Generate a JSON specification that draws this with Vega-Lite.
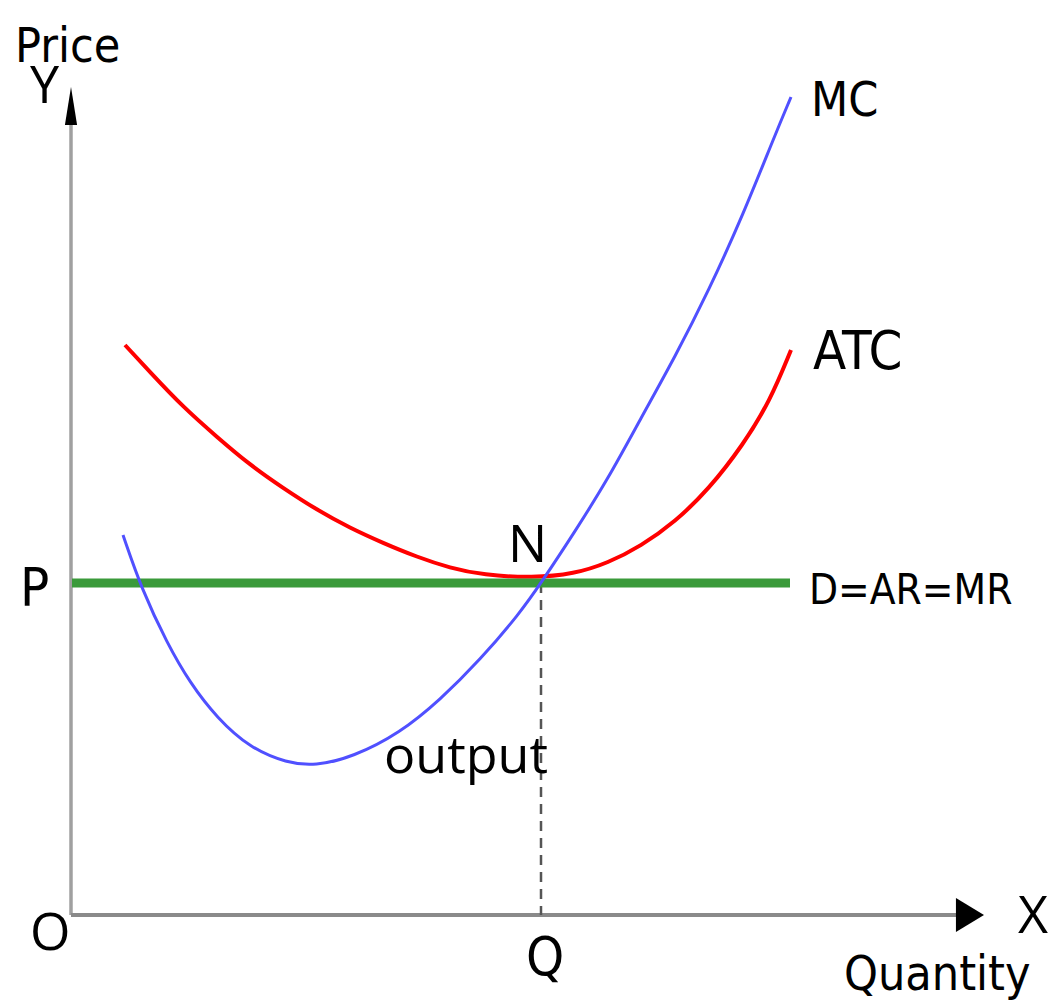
{
  "$schema": "https://vega.github.io/schema/vega-lite/v6.json",
  "width": 1054,
  "height": 1002,
  "autosize": "none",
  "padding": 0,
  "background": "white",
  "config": {"view": {"stroke": null}},
  "datasets": {
    "curves": [
      {"series": "MC", "q": 0.51, "p": 3.80},
      {"series": "MC", "q": 0.70, "p": 3.25},
      {"series": "MC", "q": 0.95, "p": 2.72},
      {"series": "MC", "q": 1.18, "p": 2.32},
      {"series": "MC", "q": 1.45, "p": 1.97},
      {"series": "MC", "q": 1.78, "p": 1.67},
      {"series": "MC", "q": 2.15, "p": 1.52},
      {"series": "MC", "q": 2.43, "p": 1.49},
      {"series": "MC", "q": 2.81, "p": 1.58},
      {"series": "MC", "q": 3.28, "p": 1.82},
      {"series": "MC", "q": 3.68, "p": 2.15},
      {"series": "MC", "q": 4.08, "p": 2.55},
      {"series": "MC", "q": 4.48, "p": 3.02},
      {"series": "MC", "q": 4.69, "p": 3.32},
      {"series": "MC", "q": 5.02, "p": 3.82},
      {"series": "MC", "q": 5.36, "p": 4.36},
      {"series": "MC", "q": 5.69, "p": 4.97},
      {"series": "MC", "q": 6.03, "p": 5.58},
      {"series": "MC", "q": 6.37, "p": 6.25},
      {"series": "MC", "q": 6.71, "p": 7.00},
      {"series": "MC", "q": 7.03, "p": 7.80},
      {"series": "MC", "q": 7.19, "p": 8.18},
      {"series": "ATC", "q": 0.53, "p": 5.70},
      {"series": "ATC", "q": 0.78, "p": 5.43},
      {"series": "ATC", "q": 1.11, "p": 5.08},
      {"series": "ATC", "q": 1.45, "p": 4.78},
      {"series": "ATC", "q": 1.78, "p": 4.50},
      {"series": "ATC", "q": 2.11, "p": 4.27},
      {"series": "ATC", "q": 2.45, "p": 4.05},
      {"series": "ATC", "q": 2.78, "p": 3.87},
      {"series": "ATC", "q": 3.11, "p": 3.72},
      {"series": "ATC", "q": 3.45, "p": 3.58},
      {"series": "ATC", "q": 3.78, "p": 3.47},
      {"series": "ATC", "q": 4.11, "p": 3.40},
      {"series": "ATC", "q": 4.61, "p": 3.37},
      {"series": "ATC", "q": 5.02, "p": 3.41},
      {"series": "ATC", "q": 5.36, "p": 3.52},
      {"series": "ATC", "q": 5.69, "p": 3.69},
      {"series": "ATC", "q": 6.03, "p": 3.93},
      {"series": "ATC", "q": 6.37, "p": 4.26},
      {"series": "ATC", "q": 6.71, "p": 4.70},
      {"series": "ATC", "q": 6.98, "p": 5.14},
      {"series": "ATC", "q": 7.19, "p": 5.65}
    ],
    "labels": [
      {"label": "Price", "q": -0.57, "p": 8.53},
      {"label": "Y", "q": -0.42, "p": 8.12},
      {"label": "MC", "q": 7.39, "p": 7.99},
      {"label": "ATC", "q": 7.41, "p": 5.46},
      {"label": "N", "q": 4.36, "p": 3.53},
      {"label": "P", "q": -0.52, "p": 3.09},
      {"label": "D=AR=MR", "q": 7.37, "p": 3.11},
      {"label": "output", "q": 3.12, "p": 1.42},
      {"label": "O", "q": -0.42, "p": -0.35},
      {"label": "Q", "q": 4.54, "p": -0.60},
      {"label": "X", "q": 9.46, "p": -0.18},
      {"label": "Quantity", "q": 7.72, "p": -0.75}
    ]
  },
  "encoding": {
    "x": {"field": "q", "type": "quantitative", "scale": {"domain": [-0.72, 9.82], "nice": false, "zero": false}, "axis": null},
    "y": {"field": "p", "type": "quantitative", "scale": {"domain": [-0.87, 9.15], "nice": false, "zero": false}, "axis": null}
  },
  "layer": [
    {
      "data": {"values": [{"q": -0.01, "p": 0, "p2": 7.95}]},
      "mark": {"type": "rule", "color": "#a0a0a0", "strokeWidth": 3.5},
      "encoding": {"y2": {"field": "p2"}}
    },
    {
      "data": {"values": [{"q": -0.01, "q2": 9.0, "p": 0}]},
      "mark": {"type": "rule", "color": "#8a8a8a", "strokeWidth": 4},
      "encoding": {"x2": {"field": "q2"}}
    },
    {
      "data": {"values": [{"q": 4.69, "p": 3.32, "p2": 0}]},
      "mark": {"type": "rule", "color": "#555555", "strokeWidth": 2.5, "strokeDash": [10, 7]},
      "encoding": {"y2": {"field": "p2"}}
    },
    {
      "data": {"values": [{"q": -0.01, "p": 8.09}]},
      "mark": {"type": "point", "shape": "M0,-1L0.32,1L-0.32,1Z", "size": 1444, "filled": true, "color": "black", "opacity": 1}
    },
    {
      "data": {"values": [{"q": 8.95, "p": 0}]},
      "mark": {"type": "point", "shape": "M1,0L-0.65,-1L-0.65,1Z", "size": 1156, "filled": true, "color": "black", "opacity": 1}
    },
    {
      "data": {"name": "curves"},
      "transform": [{"filter": "datum.series === 'ATC'"}],
      "mark": {"type": "line", "color": "#ff0000", "strokeWidth": 4, "interpolate": "basis"},
      "encoding": {"order": {"field": "q", "type": "quantitative"}}
    },
    {
      "data": {"values": [{"q": 0, "q2": 7.18, "p": 3.32}]},
      "mark": {"type": "rule", "color": "#3a9a3a", "strokeWidth": 9},
      "encoding": {"x2": {"field": "q2"}}
    },
    {
      "data": {"name": "curves"},
      "transform": [{"filter": "datum.series === 'MC'"}],
      "mark": {"type": "line", "color": "#5050ff", "strokeWidth": 3, "interpolate": "basis"},
      "encoding": {"order": {"field": "q", "type": "quantitative"}}
    },
    {
      "data": {"name": "labels"},
      "transform": [{"filter": {"field": "label", "oneOf": ["Y", "N", "output", "O", "X"]}}],
      "mark": {"type": "text", "font": "Open Sans", "fontSize": 52, "align": "left", "baseline": "alphabetic", "color": "black"},
      "encoding": {"text": {"field": "label"}}
    },
    {
      "data": {"name": "labels"},
      "transform": [{"filter": {"field": "label", "oneOf": ["Price", "Quantity", "MC"]}}],
      "mark": {"type": "text", "font": "DejaVu Sans Condensed, Liberation Sans Narrow, Roboto", "fontSize": 48, "align": "left", "baseline": "alphabetic", "color": "black"},
      "encoding": {"text": {"field": "label"}}
    },
    {
      "data": {"name": "labels"},
      "transform": [{"filter": {"field": "label", "oneOf": ["P", "Q", "ATC"]}}],
      "mark": {"type": "text", "font": "DejaVu Sans Condensed, Liberation Sans Narrow, Roboto", "fontSize": 54, "align": "left", "baseline": "alphabetic", "color": "black"},
      "encoding": {"text": {"field": "label"}}
    },
    {
      "data": {"name": "labels"},
      "transform": [{"filter": {"field": "label", "oneOf": ["D=AR=MR"]}}],
      "mark": {"type": "text", "font": "DejaVu Sans Condensed, Liberation Sans Narrow, Roboto", "fontSize": 42, "align": "left", "baseline": "alphabetic", "color": "black"},
      "encoding": {"text": {"field": "label"}}
    }
  ]
}
